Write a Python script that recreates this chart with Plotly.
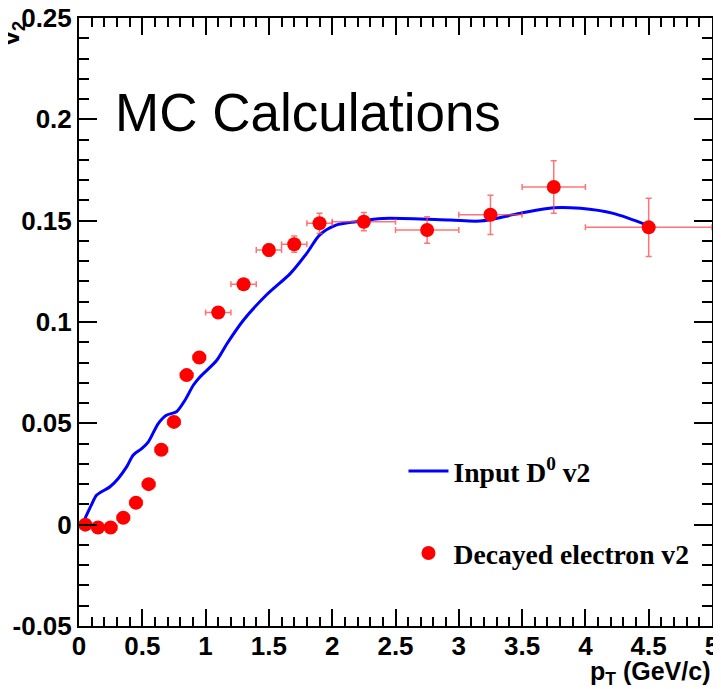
import plotly.graph_objects as go

# Input D0 v2 curve
d0_pt = [0.047, 0.10, 0.14, 0.245, 0.31, 0.376, 0.429, 0.495, 0.548, 0.626, 0.69, 0.77, 0.837,
         0.904, 0.957, 1.087, 1.17, 1.30, 1.48, 1.67, 1.80, 1.90, 2.03, 2.19, 2.40, 2.93,
         3.17, 3.48, 3.75, 3.96, 4.22, 4.50]
d0_v2 = [0.003, 0.010, 0.0146, 0.0187, 0.0228, 0.0285, 0.0344, 0.0375, 0.0409, 0.0499, 0.054,
         0.0557, 0.0614, 0.0689, 0.073, 0.081, 0.0894, 0.101, 0.1133, 0.124, 0.134, 0.1429,
         0.1478, 0.1495, 0.1511, 0.1503, 0.1498, 0.1536, 0.1564, 0.1561, 0.1536, 0.1475]

# Decayed electron v2
e_pt = [0.05, 0.15, 0.25, 0.35, 0.45, 0.55, 0.65, 0.75, 0.85, 0.95, 1.1, 1.3, 1.5, 1.7, 1.9,
        2.25, 2.75, 3.25, 3.75, 4.5]
e_v2 = [0.0, -0.0014, -0.0014, 0.0034, 0.0108, 0.020, 0.037, 0.0507, 0.0738, 0.0825, 0.1047,
        0.1186, 0.1355, 0.1384, 0.1487, 0.1495, 0.1454, 0.1529, 0.1666, 0.1467]
e_v2_err = [0.001, 0.001, 0.001, 0.001, 0.001, 0.0015, 0.0015, 0.0015, 0.0015, 0.002, 0.002,
            0.002, 0.003, 0.004, 0.005, 0.0045, 0.0065, 0.0097, 0.013, 0.0144]
e_pt_err = [0.05] * 10 + [0.1] * 5 + [0.25] * 4 + [0.5]

x_tickvals = [0, 0.5, 1, 1.5, 2, 2.5, 3, 3.5, 4, 4.5, 5]
x_ticktext = ["0", "0.5", "1", "1.5", "2", "2.5", "3", "3.5", "4", "4.5", "5"]
y_tickvals = [-0.05, 0, 0.05, 0.1, 0.15, 0.2, 0.25]
y_ticktext = ["-0.05", "0", "0.05", "0.1", "0.15", "0.2", "0.25"]

fig = go.Figure()
fig.add_trace(go.Scatter(
    x=d0_pt, y=d0_v2, mode="lines", name="Input D<sup>0</sup> v2",
    line=dict(color="#0000ff", width=3, shape="spline", smoothing=0.8),
    legendgroup="a",
))
fig.add_trace(go.Scatter(
    x=e_pt, y=e_v2, mode="markers", name="Decayed electron v2",
    marker=dict(color="#ff0000", size=14),
    error_y=dict(type="data", array=e_v2_err, color="rgba(255,70,70,0.75)", thickness=1.5, width=3),
    error_x=dict(type="data", array=e_pt_err, color="rgba(255,70,70,0.75)", thickness=1.5, width=3),
    legendgroup="b",
))

tickfont = dict(family="Liberation Sans", size=26, color="black", weight="bold")

# page body adds 8px offset; figure sized to fit the window
fig.update_layout(
    width=713, height=681,
    margin=dict(l=71, r=9, t=10, b=63),
    paper_bgcolor="white", plot_bgcolor="white",
    showlegend=True,
    legend=dict(
        x=0.5126, y=0.295, xanchor="left", yanchor="top",
        font=dict(family="Liberation Serif", size=27.6, color="black", weight="bold"),
        bgcolor="rgba(0,0,0,0)", tracegroupgap=43, itemwidth=40,
    ),
    xaxis=dict(
        range=[0, 5], tickvals=x_tickvals, ticktext=x_ticktext, automargin=False,
        ticks="inside", ticklen=17, tickwidth=2, tickcolor="black",
        minor=dict(dtick=0.1, ticks="inside", ticklen=9, tickwidth=2, tickcolor="black"),
        showline=True, linecolor="black", linewidth=2, mirror="ticks",
        showgrid=False, zeroline=False, tickfont=tickfont,
        ticklabeloverflow="allow", ticklabelstandoff=-4,
    ),
    yaxis=dict(
        range=[-0.05, 0.25], tickvals=y_tickvals, ticktext=y_ticktext, automargin=False,
        ticks="inside", ticklen=18, tickwidth=2, tickcolor="black",
        minor=dict(dtick=0.01, ticks="inside", ticklen=10, tickwidth=2, tickcolor="black"),
        showline=True, linecolor="black", linewidth=2, mirror="ticks",
        showgrid=False, zeroline=False, tickfont=tickfont,
        ticklabeloverflow="allow",
    ),
    annotations=[
        dict(text="v<sub>2</sub>", xref="paper", yref="paper", x=-0.106, y=1.0,
             xanchor="center", yanchor="top", showarrow=False, textangle=-90,
             font=dict(family="Liberation Sans", size=26, color="black", weight="bold")),
        dict(text="MC Calculations", xref="paper", yref="paper", x=0.054, y=0.845,
             xanchor="left", yanchor="middle", showarrow=False,
             font=dict(family="Liberation Sans", size=53, color="black")),
        dict(text="p<sub>T</sub> (GeV/c)", xref="paper", yref="paper", x=1.0, y=-0.077,
             xanchor="right", yanchor="middle", showarrow=False,
             font=dict(family="Liberation Sans", size=25, color="black", weight="bold")),
    ],
)

fig.write_html("out.html")
